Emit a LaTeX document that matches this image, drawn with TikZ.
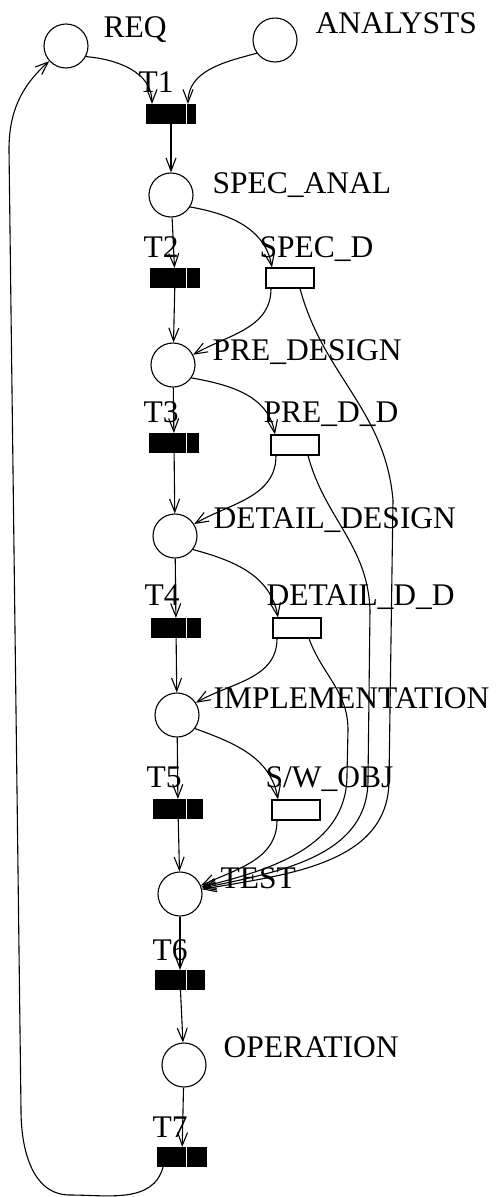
\documentclass[tikz,border=0pt]{standalone}
\usepackage{fontspec}
\setmainfont{Liberation Serif}
\usetikzlibrary{arrows.meta}

\begin{document}
\begin{tikzpicture}[x=1pt,y=-1pt,line width=1.1pt,
  >={Straight Barb[length=13pt,width=10pt]},
  place/.style={draw,circle,minimum size=44pt,inner sep=0pt},
  trans/.style={draw,fill=black,minimum width=48pt,minimum height=19pt,inner sep=0pt},
  hollow/.style={draw,fill=white,minimum width=48pt,minimum height=20pt,inner sep=0pt},
  lbl/.style={anchor=base west,inner sep=0pt,font=\fontsize{31.5}{33}\selectfont}]
  \useasboundingbox (0,0) rectangle (502,1197);
  \foreach \name/\x/\y in {req/66/46,analysts/275/40,spec/171/195,pre/173/365,detail/175/536,impl/177/715,test/180/894,oper/184/1065}{\node[place] (\name) at (\x,\y) {};}
  \foreach \name/\x/\y in {t1/171/114,t2/175/278,t3/174/443,t4/176/628,t5/178/809,t6/180/980,t7/182/1157}{\node[trans] (\name) at (\x,\y) {};}
  \foreach \name/\x/\y in {specd/290/278,predd/295/445,detaildd/297/628,swobj/296/810}{\node[hollow] (\name) at (\x,\y) {};}
  \coordinate (streak) at (186,0);
  \foreach \t in {t1,t2,t3,t4,t5,t6,t7}{\draw[white,line width=.8pt] (\t.north -| streak) -- (\t.south -| streak);}

  \node[lbl] (lreq) at (103,37) {REQ};
  \node[lbl] (lanalysts) at (315,33) {ANALYSTS};
  \node[lbl] (lt1) at (138,92) {T1};
  \node[lbl] (lspec) at (212,193) {SPEC\_ANAL};
  \node[lbl] (lt2) at (143,257) {T2};
  \node[lbl] (lspecd) at (259,257) {SPEC\_D};
  \node[lbl] (lpre) at (212,360) {PRE\_DESIGN};
  \node[lbl] (lt3) at (143,422) {T3};
  \node[lbl] (lpredd) at (263,422) {PRE\_D\_D};
  \node[lbl] (ldetail) at (213,528) {DETAIL\_DESIGN};
  \node[lbl] (lt4) at (144,605) {T4};
  \node[lbl] (ldetaildd) at (266,605) {DETAIL\_D\_D};
  \node[lbl] (limpl) at (213,708) {IMPLEMENTATION};
  \node[lbl] (lt5) at (146,787) {T5};
  \node[lbl] (lswobj) at (265,787) {S/W\_OBJ};
  \node[lbl] (ltest) at (220,888) {TEST};
  \node[lbl] (lt6) at (152,960) {T6};
  \node[lbl] (loper) at (223,1057) {OPERATION};
  \node[lbl] (lt7) at (152,1137) {T7};

  \foreach \a/\b in {t1/spec,spec/t2,t2/pre,pre/t3,t3/detail,detail/t4,t4/impl,impl/t5,t5/test,test/t6,t6/oper,oper/t7}{\draw[->] (\a) -- (\b);}

  \draw[->] (req.-28) to[out=-5,in=90] ([xshift=-19pt]t1.north);
  \draw[->] (analysts.-144) to[out=195,in=90] ([xshift=17pt]t1.north);
  \draw[->] (spec.-32) to[out=-10,in=100] ([xshift=-18pt]specd.north);
  \draw[->] ([xshift=-19pt]specd.south) to[out=-90,in=30] (pre.27);
  \draw[->] (pre.-35) to[out=-10,in=100] ([xshift=-20pt]predd.north);
  \draw[->] ([xshift=-19pt]predd.south) to[out=-90,in=30] (detail.32);
  \draw[->] (detail.-37) to[out=-15,in=100] ([xshift=-19pt]detaildd.north);
  \draw[->] ([xshift=-20pt]detaildd.south) to[out=-90,in=30] (impl.33);
  \draw[->] (impl.-37) to[out=-20,in=100] ([xshift=-18pt]swobj.north);
  \draw[->] ([xshift=-19pt]swobj.south) to[out=-90,in=25] (test.22);

  \coordinate (sa) at (393,500);
  \coordinate (sb) at (389,780);
  \coordinate (pa) at (370,610);
  \coordinate (pb) at (368,780);
  \coordinate (da) at (348,730);
  \coordinate (db) at (347,775);
  \draw[->] ([xshift=10pt]specd.south) to[out=-75,in=95] (sa) -- (sb) to[out=-90,in=10] (test.12);
  \draw[->] ([xshift=13pt]predd.south) to[out=-75,in=92] (pa) -- (pb) to[out=-90,in=12] (test.15);
  \draw[->] ([xshift=12pt]detaildd.south) to[out=-70,in=90] (da) -- (db) to[out=-90,in=14] (test.18);

  \coordinate (bot) at (70,1195);
  \coordinate (lft) at (21,1110);
  \coordinate (lftup) at (9,150);
  \draw[->] ([xshift=-19pt]t7.south) to[out=-105,in=0] (bot) to[out=180,in=-90] (lft) -- (lftup) to[out=90,in=-138] (req.-138);
\end{tikzpicture}
\end{document}
